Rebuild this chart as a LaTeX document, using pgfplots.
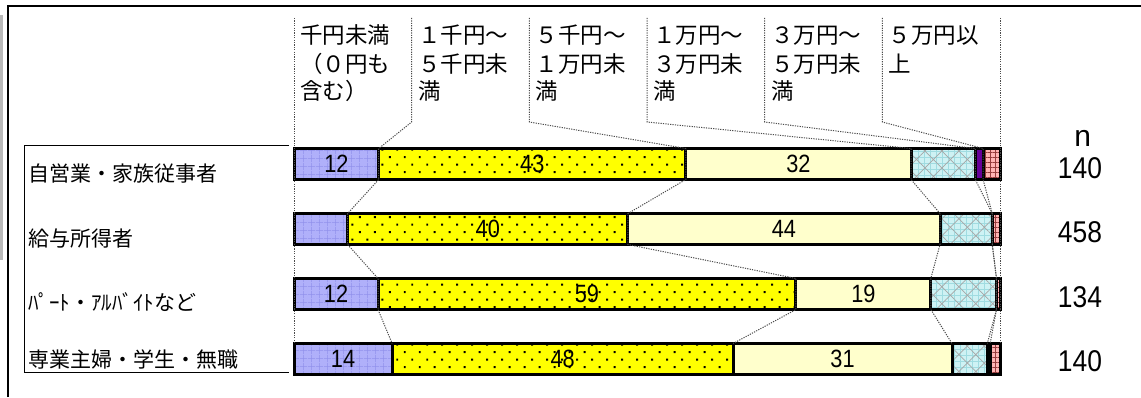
\documentclass[border=0pt]{standalone}
\usepackage{fontspec}
\setmainfont{Liberation Sans}
\newfontfamily\jp{Noto Sans CJK JP}
\usepackage{pgfplots}
\pgfplotsset{compat=1.18}
\usepackage{pgfplotstable}
\usetikzlibrary{patterns.meta}

\definecolor{lav}{RGB}{176,176,250}
\definecolor{lavline}{RGB}{145,145,235}
\definecolor{yel}{RGB}{255,255,0}
\definecolor{cream}{RGB}{255,255,204}
\definecolor{aqua}{RGB}{206,242,244}
\definecolor{aqualine}{RGB}{160,220,225}
\definecolor{purp}{RGB}{102,0,153}
\definecolor{pink}{RGB}{255,180,180}
\definecolor{pinkline}{RGB}{150,60,60}

% shares (%) per group
\pgfplotstableread{
row a b c d e f
1 12.0 43.5 31.9 9.1 1.1 2.4
2 7.6 39.7 44.2 7.4 0 1.1
3 11.9 59.2 19.1 9.3 0 0.5
4 13.9 48.3 31.0 5.0 0.4 1.4
}\shares

\pgfplotsset{
  base/.style={scale only axis, width=353pt, height=195.5pt,
    xmin=0, xmax=100, ymin=-1.4308, ymax=4.5846, y dir=reverse,
    hide axis, clip=false},
  sline/.style={black!70, line width=0.5pt, dash pattern=on 0.6pt off 0.6pt},
}

\begin{document}
\begin{tikzpicture}
\begin{axis}[base, xbar stacked, bar width=15.5pt,
  every axis plot/.append style={draw=black, line width=1.5pt}]
\addplot[preaction={fill=lav}, pattern={Hatch[distance=4pt, angle=0, line width=0.35pt]}, pattern color=lavline] table[x=a, y=row]{\shares};
\addplot[preaction={fill=yel}, pattern={Dots[distance=5.3pt, angle=45, radius=0.7pt]}, pattern color=black] table[x=b, y=row]{\shares};
\addplot[fill=cream] table[x=c, y=row]{\shares};
\addplot[preaction={fill=aqua}, preaction={pattern={Hatch[distance=3pt, angle=0, line width=0.3pt]}, pattern color=aqualine}, pattern={Hatch[distance=6pt, angle=45, line width=0.35pt]}, pattern color=black!35] table[x=d, y=row]{\shares};
\addplot[fill=purp] table[x=e, y=row]{\shares};
\addplot[preaction={fill=pink}, pattern={Hatch[distance=2.5pt, angle=0, line width=0.4pt]}, pattern color=pinkline] table[x=f, y=row]{\shares};
\end{axis}

\begin{axis}[base]
% outer frame and scroll strip
\draw[line width=1pt] (axis cs:-40.44,4.5846) -- (axis cs:-40.44,-1.423) -- (axis cs:119.97,-1.423);
\fill[gray!55] (axis cs:-41.643,-1.292) rectangle (axis cs:-41.22,2.477);
% row label box
\draw[line width=0.5pt] (axis cs:-0.708,0.723) -- (axis cs:-38.24,0.723) -- (axis cs:-38.24,4.2) -- (axis cs:-0.708,4.2);
\coordinate (bl) at (axis cs:-41.643,4.5846);
\coordinate (tr) at (axis cs:119.97,-1.523);

% series lines
\addplot[sline] coordinates {(0,-1.246) (0,3.7615)};
\addplot[sline] coordinates {(100,-1.246) (100,3.7615)};
\addplot[sline] coordinates {(16.667,-1.246) (16.667,0.354) (12,0.7615) (12,1.2385) (7.6,1.7615) (7.6,2.2385) (11.9,2.7615) (11.9,3.2385) (13.9,3.7615)};
\addplot[sline] coordinates {(33.333,-1.246) (33.333,0.354) (55.5,0.7615) (55.5,1.2385) (47.3,1.7615) (47.3,2.2385) (71.1,2.7615) (71.1,3.2385) (62.2,3.7615)};
\addplot[sline] coordinates {(50,-1.246) (50,0.354) (87.4,0.7615) (87.4,1.2385) (91.5,1.7615) (91.5,2.2385) (90.2,2.7615) (90.2,3.2385) (93.2,3.7615)};
\addplot[sline] coordinates {(66.667,-1.246) (66.667,0.354) (96.5,0.7615) (96.5,1.2385) (98.9,1.7615) (98.9,2.2385) (99.5,2.7615) (99.5,3.2385) (98.2,3.7615)};
\addplot[sline] coordinates {(83.333,-1.246) (83.333,0.354) (97.6,0.7615) (97.6,1.2385) (98.9,1.7615) (98.9,2.2385) (99.5,2.7615) (99.5,3.2385) (98.6,3.7615)};

% value labels
\addplot[draw=none, mark=none, point meta=explicit symbolic,
  nodes near coords={\scalebox{0.87}[1]{\pgfplotspointmeta}},
  every node near coord/.append style={anchor=center, inner sep=0pt, font=\fontsize{12.5}{14}\selectfont}]
  coordinates {
  (6,1) [12] (33.75,1) [43] (71.45,1) [32]
  (27.45,2) [40] (69.4,2) [44]
  (5.95,3) [12] (41.5,3) [59] (80.65,3) [19]
  (6.95,4) [14] (38.05,4) [48] (77.7,4) [31]
  };

% header labels
\begin{scope}[every node/.style={anchor=base west, inner sep=0pt, font=\jp\fontsize{11.25}{14}\selectfont}]
\node at (axis cs:0.85,-0.85) {千円未満};
\node at (axis cs:0.85,-0.40) {（０円も};
\node at (axis cs:0.85,0.015) {含む）};
\node at (axis cs:17.52,-0.85) {１千円～};
\node at (axis cs:17.52,-0.40) {５千円未};
\node at (axis cs:17.52,0.015) {満};
\node at (axis cs:34.18,-0.85) {５千円～};
\node at (axis cs:34.18,-0.40) {１万円未};
\node at (axis cs:34.18,0.015) {満};
\node at (axis cs:50.85,-0.85) {１万円～};
\node at (axis cs:50.85,-0.40) {３万円未};
\node at (axis cs:50.85,0.015) {満};
\node at (axis cs:67.52,-0.85) {３万円～};
\node at (axis cs:67.52,-0.40) {５万円未};
\node at (axis cs:67.52,0.015) {満};
\node at (axis cs:84.18,-0.85) {５万円以};
\node at (axis cs:84.18,-0.40) {上};
\end{scope}

% row labels
\begin{scope}[every node/.style={anchor=base west, inner sep=0pt, font=\jp\fontsize{10.5}{12}\selectfont}]
\node at (axis cs:-37.68,1.265) {自営業・家族従事者};
\node at (axis cs:-37.68,2.265) {給与所得者};
\node at (axis cs:-37.68,3.25) {ﾊﾟｰﾄ・ｱﾙﾊﾞｲﾄなど};
\node at (axis cs:-37.68,4.127) {専業主婦・学生・無職};
\end{scope}

% sample sizes
\begin{scope}[every node/.style={anchor=base, inner sep=0pt, font=\fontsize{15}{18}\selectfont}]
\node at (axis cs:111.7,0.738) {n};
\node at (axis cs:111.33,1.22) {\scalebox{0.88}[1]{140}};
\node at (axis cs:111.33,2.21) {\scalebox{0.88}[1]{458}};
\node at (axis cs:111.33,3.2) {\scalebox{0.88}[1]{134}};
\node at (axis cs:111.33,4.19) {\scalebox{0.88}[1]{140}};
\end{scope}
\end{axis}
\pgfresetboundingbox
\useasboundingbox (bl) rectangle (tr);
\end{tikzpicture}
\end{document}
